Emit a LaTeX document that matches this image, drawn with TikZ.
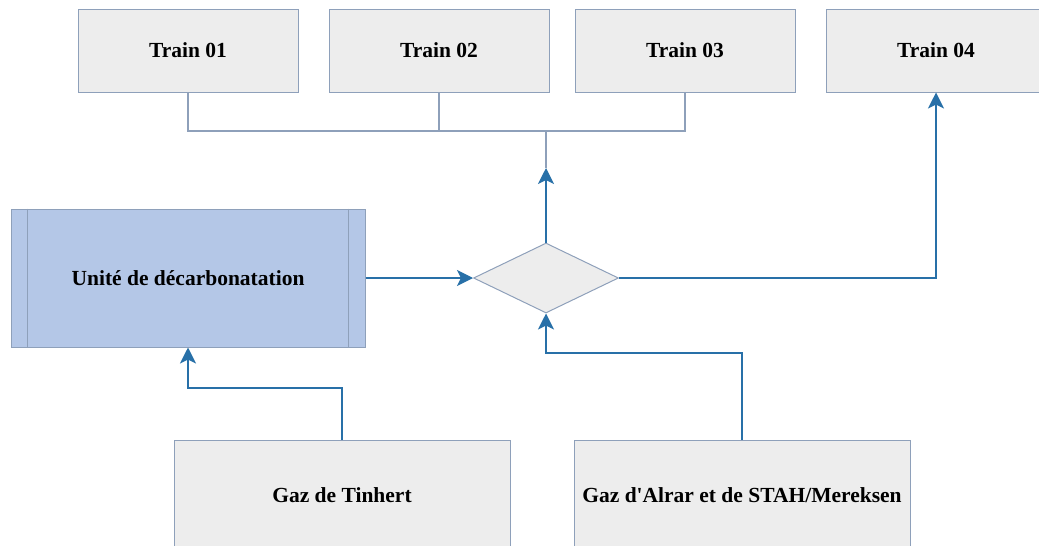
\documentclass[tikz,border=0pt]{standalone}
\usepackage{fontspec}
\setmainfont{Liberation Serif}
\usetikzlibrary{shapes.geometric,arrows.meta}
\definecolor{boxfill}{HTML}{EDEDED}
\definecolor{boxline}{HTML}{8EA0BA}
\definecolor{unitfill}{HTML}{B4C7E7}
\definecolor{flow}{HTML}{2870A8}
\tikzset{
  procbox/.style={draw=boxline, line width=1pt, fill=boxfill, minimum width=220pt, minimum height=83pt, inner sep=0pt,
    font=\fontsize{21.5}{25}\selectfont\bfseries},
  trainbox/.style={procbox, text depth=0pt, yshift=0pt},
  srcbox/.style={procbox, minimum width=336pt, minimum height=110pt},
  unitbox/.style={procbox, fill=unitfill, minimum width=354pt, minimum height=138pt},
  junction/.style={draw=boxline, line width=1pt, fill=boxfill, diamond, aspect=2.07, minimum width=145pt, minimum height=70pt, inner sep=0pt},
  flowline/.style={draw=flow, line width=1.3pt, -{Stealth[length=16pt,width=16pt,inset=4pt]}},
  collect/.style={draw=boxline, line width=1.1pt},
}
\begin{document}
\begin{tikzpicture}[x=1pt,y=-1pt]
\path[use as bounding box, clip] (0,0) rectangle (1039,546);

% train outputs
\node[procbox] (t1) at (188,50.5) {Train 01};
\node[procbox] (t2) at (439,50.5) {Train 02};
\node[procbox] (t3) at (685,50.5) {Train 03};
\node[procbox] (t4) at (936,50.5) {Train 04};

% decarbonation unit with side bars
\node[unitbox] (unit) at (188,278) {Unité de décarbonatation};
\draw[boxline, line width=1pt] ([xshift=17pt]unit.north west) -- ([xshift=17pt]unit.south west);
\draw[boxline, line width=1pt] ([xshift=-17pt]unit.north east) -- ([xshift=-17pt]unit.south east);

% distribution point
\node[junction] (dist) at (546,278) {};

% gas sources
\node[srcbox] (tin) at (342,495) {Gaz de Tinhert};
\node[srcbox] (alr) at (742,495) {Gaz d\textquotesingle Alrar et de STAH/Mereksen};

% collector feeding trains 01-03
\coordinate (feed) at (546,168);
\draw[collect] (t1.south) |- (546,131) -- (feed);
\draw[collect] (t2.south) -- (t2.south |- 0,131);
\draw[collect] (t3.south) |- (546,131);

% flows
\draw[flowline] (dist.north) -- (feed);
\draw[flowline] (unit.east) -- (dist.west);
\draw[flowline] (dist.east) -| (t4.south);
\draw[flowline] (tin.north) |- (188,388) -- (unit.south);
\draw[flowline] (alr.north) |- (546,353) -- (dist.south);
\end{tikzpicture}
\end{document}
